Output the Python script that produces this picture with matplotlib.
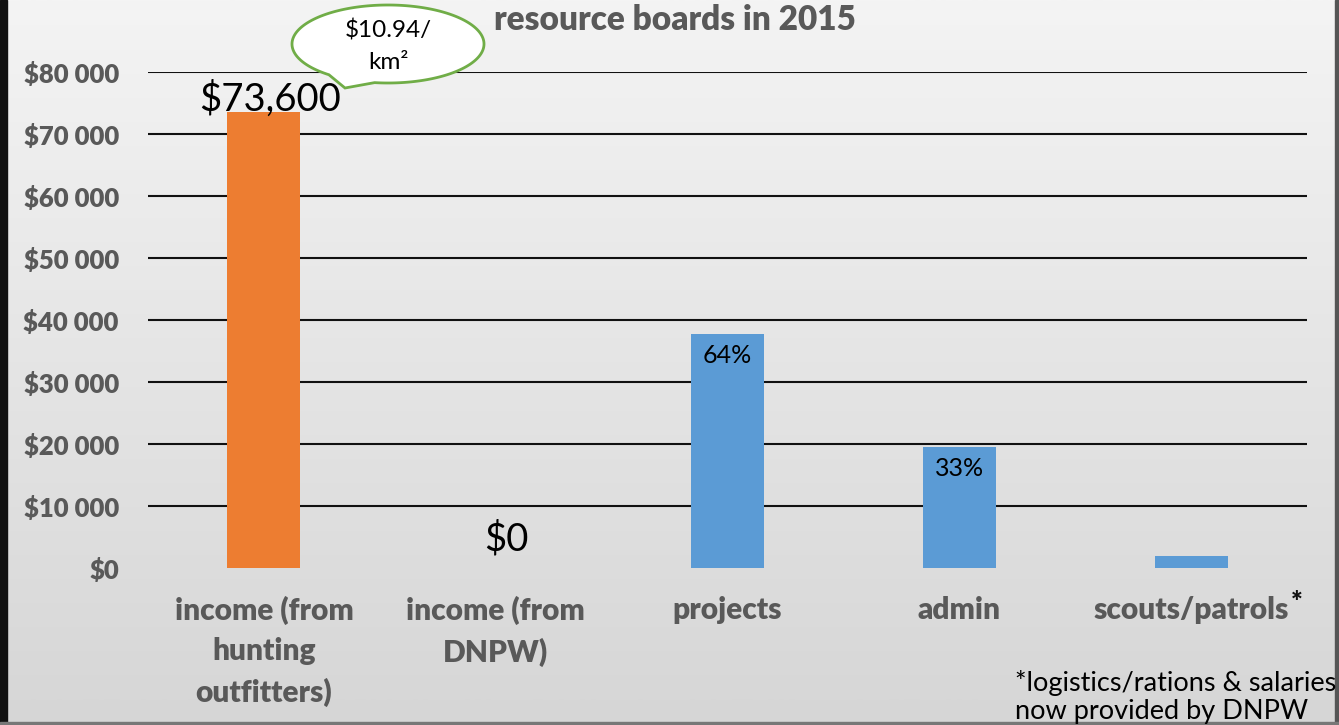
import numpy as np
import matplotlib
matplotlib.use("Agg")
import matplotlib.pyplot as plt
from matplotlib.patches import Polygon, Rectangle
from matplotlib.colors import LinearSegmentedColormap

categories = ["income (from\nhunting\noutfitters)", "income (from\nDNPW)", "projects", "admin", "scouts/patrols"]
values = [73600, 0, 37700, 19500, 1900]
colors = ["#ed7d31", "#5b9bd5", "#5b9bd5", "#5b9bd5", "#5b9bd5"]
value_labels = ["$73,600", "$0", "64%", "33%", ""]
yticks = [0, 10000, 20000, 30000, 40000, 50000, 60000, 70000, 80000]
ytick_labels = ["$0", "$10 000", "$20 000", "$30 000", "$40 000", "$50 000", "$60 000", "$70 000", "$80 000"]
title = "resource boards in 2015"
callout = "$10.94/\nkm²"
footnote = "*logistics/rations & salaries\nnow provided by DNPW"

FONT = "Lato"
BOLD = 800
W, H = 1339, 725
fig = plt.figure(figsize=(W / 100, H / 100), dpi=100)

def px(x, y):
    return (x / W, 1 - y / H)

# background gradient
bg = fig.add_axes([0, 0, 1, 1], zorder=-10)
grad = np.linspace(0, 1, 256).reshape(-1, 1)
cmap = LinearSegmentedColormap.from_list("g", ["#f4f4f4", "#d6d6d6"])
bg.imshow(grad, aspect="auto", cmap=cmap, extent=[0, 1, 0, 1], origin="upper")
bg.set_axis_off()

# borders
fig.patches.append(Rectangle((0, 0), 7 / W, 1, transform=fig.transFigure, color="#111111", zorder=5))
fig.patches.append(Rectangle((1335 / W, 0), 4 / W, 1, transform=fig.transFigure, color="#555555", zorder=5))
fig.patches.append(Rectangle((0, 0), 1, 3 / H, transform=fig.transFigure, color="#777777", zorder=5))

ax = fig.add_axes([148 / W, 1 - 568 / H, (1307 - 148) / W, (568 - 72) / H])
ax.set_facecolor("none")
x = np.arange(len(categories))
ax.bar(x, values, width=0.315, color=colors, zorder=3)
ax.set_xlim(-0.5, len(categories) - 0.5)
ax.set_ylim(0, 80000)
for t in yticks[1:]:
    ax.axhline(t, color="#111111", lw=1.5, zorder=2)
ax.set_yticks(yticks)
ax.set_yticklabels(ytick_labels, fontfamily=FONT, fontweight=BOLD, fontsize=18.5, color="#595959")
ax.set_xticks(x)
ax.set_xticklabels(categories, fontfamily=FONT, fontweight=BOLD, fontsize=21.5, color="#595959",
                   linespacing=1.52, va="top")
ax.tick_params(axis="y", length=0, pad=21)
ax.tick_params(axis="x", length=0, pad=20)
for s in ax.spines.values():
    s.set_visible(False)

# superscript asterisk for scouts
fig.text(*px(1297, 603), "*", fontfamily=FONT, fontweight=BOLD, fontsize=20, color="#111111",
         ha="center", va="center")

# value labels
ax.text(0.025, values[0] - 900, value_labels[0], fontfamily=FONT, fontsize=27.5, ha="center", va="bottom", color="#000000")
ax.text(1.045, 4700, value_labels[1], fontfamily=FONT, fontsize=27.5, ha="center", va="center", color="#000000")
ax.text(2, values[2] - 3500, value_labels[2], fontfamily=FONT, fontsize=18, ha="center", va="center", color="#000000")
ax.text(3, values[3] - 3500, value_labels[3], fontfamily=FONT, fontsize=18, ha="center", va="center", color="#000000")

# title
fig.text(*px(675, 20), title, fontfamily=FONT, fontweight=BOLD, fontsize=24, color="#595959", ha="center", va="center")

# callout bubble
cx, cy, a, b = 388, 44, 96, 39
angs = np.linspace(0, 2 * np.pi, 400)
pts = []
tail_start, tail_end = np.deg2rad(232), np.deg2rad(262)
tip = (345, 88)
added = False
for t in angs:
    if tail_start < t < tail_end:
        if not added:
            pts.append((cx + a * np.cos(tail_start), cy - b * np.sin(tail_start)))
            pts.append(tip)
            pts.append((cx + a * np.cos(tail_end), cy - b * np.sin(tail_end)))
            added = True
        continue
    pts.append((cx + a * np.cos(t), cy - b * np.sin(t)))
pts_fig = [px(p[0], p[1]) for p in pts]
fig.patches.append(Polygon(pts_fig, closed=True, transform=fig.transFigure, facecolor="white",
                           edgecolor="#70ad47", lw=2, zorder=6))
fig.text(*px(388, 46), callout, fontfamily=FONT, fontsize=17.5, ha="center", va="center",
         color="#000000", linespacing=1.6, zorder=7)

# footnote
fig.text(*px(1015, 697), footnote, fontfamily=FONT, fontsize=19.5, ha="left", va="center",
         color="#000000", linespacing=1.2, zorder=7)

fig.savefig("out.png", dpi=100)
